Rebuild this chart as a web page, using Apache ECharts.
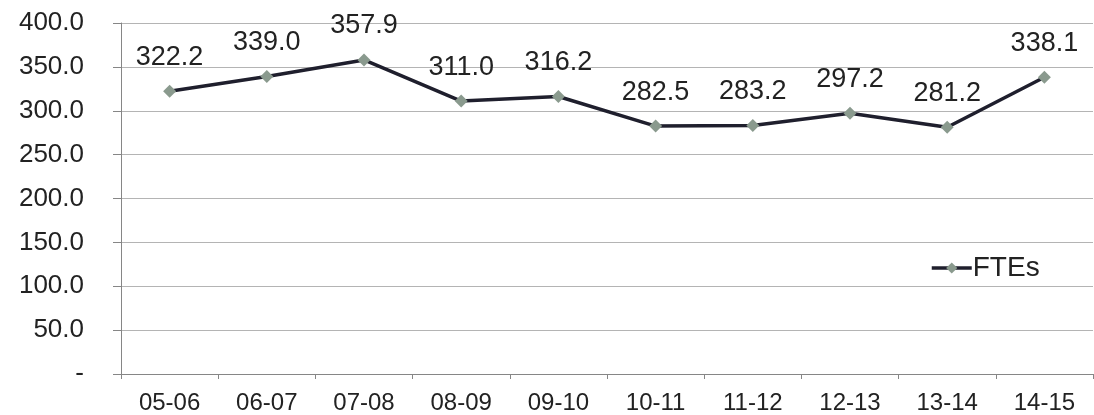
<!DOCTYPE html>
<html>
<head>
<meta charset="utf-8">
<script src="https://cdn.jsdelivr.net/npm/echarts@6/dist/echarts.min.js"></script>
<style>
html,body{margin:0;padding:0;background:#fff;}
#chart{width:1094px;height:415px;}
</style>
</head>
<body>
<div id="chart"></div>
<script>
var years = ['05-06','06-07','07-08','08-09','09-10','10-11','11-12','12-13','13-14','14-15'];
var ftes = [322.2, 339.0, 357.9, 311.0, 316.2, 282.5, 283.2, 297.2, 281.2, 338.1];

var myChart = echarts.init(document.getElementById('chart'));
var font = 'Liberation Sans, Arial, sans-serif';

option = {
    animation: false,
    textStyle: { fontFamily: font },
    grid: { left: 121, right: 1, top: 23, bottom: 40 },
    legend: {
        data: ['FTEs'],
        left: 925,
        top: 249,
        itemWidth: 40,
        itemHeight: 14,
        itemGap: 0,
        lineStyle: { width: 3.5, color: '#1f1f2d' },
        textStyle: { fontSize: 28, color: '#222', fontFamily: font, padding: [0, 0, 0, -4] }
    },
    xAxis: {
        type: 'category',
        data: years,
        boundaryGap: true,
        axisLine: { lineStyle: { color: '#868686', width: 1 } },
        axisTick: { show: true, length: 5, lineStyle: { color: '#868686' } },
        axisLabel: { fontSize: 24, color: '#222', margin: 17, fontFamily: font }
    },
    yAxis: {
        type: 'value',
        min: 0,
        max: 400,
        interval: 50,
        axisLine: { show: true, lineStyle: { color: '#868686', width: 1 } },
        axisTick: { show: true, length: 8, lineStyle: { color: '#868686' } },
        splitLine: { lineStyle: { color: '#b4b4b4', width: 1 } },
        axisLabel: {
            fontSize: 26, color: '#222', margin: 37, fontFamily: font,
            formatter: function (v) { return v === 0 ? '-' : v.toFixed(1); }
        }
    },
    series: [
        {
            name: 'FTEs',
            type: 'line',
            data: ftes,
            symbol: 'diamond',
            symbolSize: 13,
            itemStyle: { color: '#8a9a8e' },
            lineStyle: { color: '#1f1f2d', width: 3.5 },
            label: {
                show: true,
                position: 'top',
                distance: 14,
                fontSize: 27,
                color: '#222',
                fontFamily: font,
                formatter: function (p) { return p.value.toFixed(1); }
            }
        }
    ]
};

myChart.setOption(option);
</script>
</body>
</html>
